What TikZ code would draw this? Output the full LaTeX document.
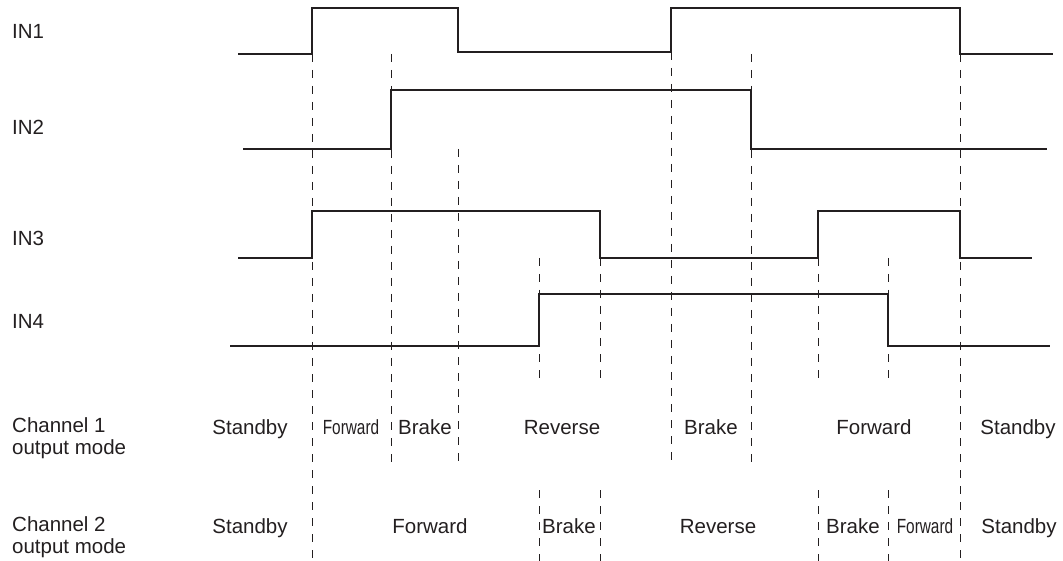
\documentclass[tikz,border=0pt]{standalone}
\usepackage{graphicx}
\usepackage{fontspec}
\setmainfont{Liberation Sans}
\definecolor{ink}{RGB}{35,31,32}
\begin{document}
\begin{tikzpicture}[x=1pt,y=-1pt,
  sig/.style={line width=2.2pt, draw=ink, line join=miter},
  guide/.style={line width=1pt, draw=ink, dash pattern=on 8pt off 8pt},
  lbl/.style={anchor=base west, inner sep=0pt, text=ink, font=\fontsize{20.5}{22}\selectfont},
  mode/.style={anchor=base, inner sep=0pt, text=ink, font=\fontsize{20.5}{22}\selectfont},
]
\useasboundingbox (0,0) rectangle (1063,561);

% row labels
\node[lbl] (lin1) at (12,39) {IN1};
\node[lbl] (lin2) at (12,135) {IN2};
\node[lbl] (lin3) at (12,246) {IN3};
\node[lbl] (lin4) at (12,329) {IN4};
\node[lbl] (lch1) at (12,432) {\begin{tabular}[t]{@{}l@{}}Channel 1\\output mode\end{tabular}};
\node[lbl] (lch2) at (12,531) {\begin{tabular}[t]{@{}l@{}}Channel 2\\output mode\end{tabular}};

% waveforms
\draw[sig] (238,54) -- (312,54) -- (312,8) -- (458,8) -- (458,52) -- (671,52) -- (671,8) -- (960,8) -- (960,54) -- (1053,54);
\draw[sig] (243,149) -- (391,149) -- (391,90) -- (751,90) -- (751,149) -- (1047,149);
\draw[sig] (238,258) -- (312,258) -- (312,211) -- (600,211) -- (600,258) -- (818,258) -- (818,211) -- (960,211) -- (960,258) -- (1032,258);
\draw[sig] (230,346) -- (539,346) -- (539,294) -- (888,294) -- (888,346) -- (1050,346);

% guide coordinates
\coordinate (a1) at (312,54);  \coordinate (a2) at (312,561);
\coordinate (b1) at (391,54);  \coordinate (b2) at (391,462);
\coordinate (c1) at (458,149); \coordinate (c2) at (458,462);
\coordinate (d1) at (539,258); \coordinate (d2) at (539,378); \coordinate (d3) at (539,490); \coordinate (d4) at (539,561);
\coordinate (e1) at (600,258); \coordinate (e2) at (600,378); \coordinate (e3) at (600,490); \coordinate (e4) at (600,561);
\coordinate (f1) at (671,52);  \coordinate (f2) at (671,462);
\coordinate (g1) at (751,54);  \coordinate (g2) at (751,462);
\coordinate (h1) at (818,258); \coordinate (h2) at (818,378); \coordinate (h3) at (818,490); \coordinate (h4) at (818,561);
\coordinate (i1) at (888,258); \coordinate (i2) at (888,378); \coordinate (i3) at (888,490); \coordinate (i4) at (888,561);
\coordinate (j1) at (960,54);  \coordinate (j2) at (960,561);

\draw[guide] (a1) -- (a2);
\draw[guide] (b1) -- (b2);
\draw[guide] (c1) -- (c2);
\draw[guide] (d1) -- (d2); \draw[guide] (d3) -- (d4);
\draw[guide] (e1) -- (e2); \draw[guide] (e3) -- (e4);
\draw[guide] (f1) -- (f2);
\draw[guide] (g1) -- (g2);
\draw[guide] (h1) -- (h2); \draw[guide] (h3) -- (h4);
\draw[guide] (i1) -- (i2); \draw[guide] (i3) -- (i4);
\draw[guide] (j1) -- (j2);

% channel 1 modes
\node[mode] (m11) at (250,434) {Standby};
\node[mode] (m12) at (351,434) {\scalebox{0.75}[1]{Forward}};
\node[mode] (m13) at (425,434) {Brake};
\node[mode] (m14) at (562,434) {Reverse};
\node[mode] (m15) at (711,434) {Brake};
\node[mode] (m16) at (874,434) {Forward};
\node[mode] (m17) at (1018,434) {Standby};

% channel 2 modes
\node[mode] (m21) at (250,533) {Standby};
\node[mode] (m22) at (430,533) {Forward};
\node[mode] (m23) at (569,533) {Brake};
\node[mode] (m24) at (718,533) {Reverse};
\node[mode] (m25) at (853,533) {Brake};
\node[mode] (m26) at (925,533) {\scalebox{0.75}[1]{Forward}};
\node[mode] (m27) at (1019,533) {Standby};
\end{tikzpicture}
\end{document}
